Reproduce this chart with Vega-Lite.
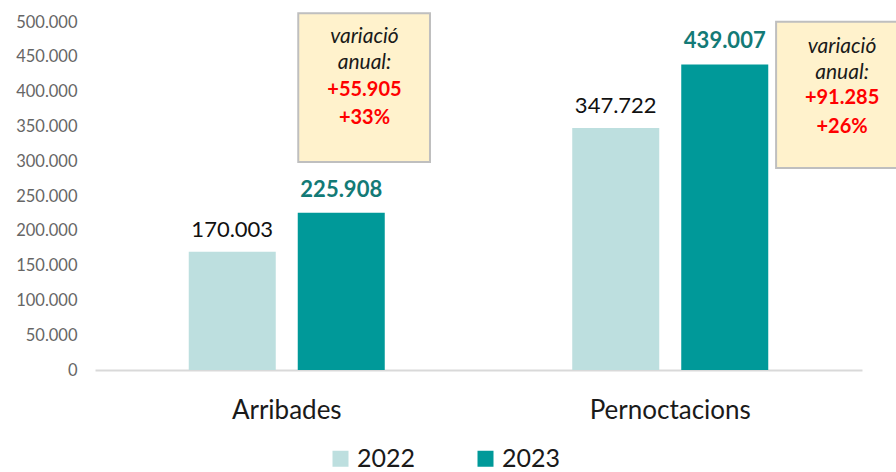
{
  "$schema": "https://vega.github.io/schema/vega-lite/v6.json",
  "width": 767,
  "height": 348,
  "autosize": {"type": "none"},
  "padding": {"left": 95, "top": 22, "right": 34, "bottom": 102},
  "background": "white",
  "config": {
    "view": {"stroke": null},
    "font": "Lato",
    "axisY": {"labelOverlap": false},
    "locale": {"number": {"decimal": ",", "thousands": ".", "grouping": [3], "currency": ["", " €"]}}
  },
  "datasets": {
    "bars": [
      {"cat": "Arribades", "year": "2022", "value": 170003},
      {"cat": "Arribades", "year": "2023", "value": 225908},
      {"cat": "Pernoctacions", "year": "2022", "value": 347722},
      {"cat": "Pernoctacions", "year": "2023", "value": 439007}
    ],
    "boxes": [
      {"box": "Arribades", "x1": 0.530, "x2": 0.8735, "y1": 298900, "y2": 512500},
      {"box": "Pernoctacions", "x1": 1.776, "x2": 2.12, "y1": 290200, "y2": 500400}
    ],
    "notes": [
      {"box": "Arribades", "kind": "label", "line": "variació", "xpos": 0.7027, "ypos": 478900},
      {"box": "Arribades", "kind": "label", "line": "anual:", "xpos": 0.7027, "ypos": 441100},
      {"box": "Arribades", "kind": "value", "line": "+55.905", "xpos": 0.7027, "ypos": 402300},
      {"box": "Arribades", "kind": "value", "line": "+33%", "xpos": 0.7027, "ypos": 362100},
      {"box": "Pernoctacions", "kind": "label", "line": "variació", "xpos": 1.948, "ypos": 464500},
      {"box": "Pernoctacions", "kind": "label", "line": "anual:", "xpos": 1.948, "ypos": 426700},
      {"box": "Pernoctacions", "kind": "value", "line": "+91.285", "xpos": 1.948, "ypos": 390800},
      {"box": "Pernoctacions", "kind": "value", "line": "+26%", "xpos": 1.948, "ypos": 349600}
    ]
  },
  "layer": [
    {
      "data": {"name": "bars"},
      "encoding": {
        "x": {
          "field": "cat", "type": "nominal",
          "scale": {"paddingInner": 0, "paddingOuter": 0},
          "axis": {"title": null, "labelAngle": 0, "ticks": false, "domainColor": "#d9d9d9", "domainWidth": 2, "labelFontSize": 26, "labelColor": "#1a1a1a", "labelPadding": 27, "labelFont": "Lato"}
        },
        "xOffset": {"field": "year", "type": "nominal", "scale": {"paddingInner": 0.2018, "paddingOuter": 0.86}},
        "y": {
          "field": "value", "type": "quantitative",
          "scale": {"domain": [0, 500000], "nice": false},
          "axis": {"title": null, "tickCount": 10, "format": ",d", "labelOverlap": false, "labelSeparation": 0, "domain": false, "ticks": false, "grid": false, "labelFontSize": 16.5, "labelColor": "#666666", "labelPadding": 18, "labelFont": "Lato"}
        }
      },
      "layer": [
        {
          "mark": {"type": "bar"},
          "encoding": {
            "color": {
              "field": "year", "type": "nominal",
              "scale": {"domain": ["2022", "2023"], "range": ["#bddfdf", "#009999"]},
              "legend": {"title": null, "orient": "none", "legendX": 233, "legendY": 424, "direction": "horizontal", "symbolType": "square", "symbolSize": 256, "symbolStrokeWidth": 0, "labelFontSize": 25, "labelFont": "Lato", "labelColor": "#1a1a1a", "labelOffset": 4, "columnPadding": 57}
            }
          }
        },
        {
          "transform": [{"filter": "datum.year === '2022'"}],
          "mark": {"type": "text", "baseline": "alphabetic", "dy": -15, "fontSize": 22, "color": "#111111", "font": "Lato"},
          "encoding": {
            "text": {"field": "value", "type": "quantitative", "format": ",d"}
          }
        },
        {
          "transform": [{"filter": "datum.year === '2023'"}],
          "mark": {"type": "text", "baseline": "alphabetic", "dy": -16, "fontSize": 22, "fontWeight": "bold", "color": "#137a76", "font": "Lato"},
          "encoding": {
            "text": {"field": "value", "type": "quantitative", "format": ",d"}
          }
        }
      ]
    },
    {
      "layer": [
        {
          "data": {"name": "boxes"},
          "mark": {"type": "rect", "fill": "#fff2cc", "stroke": "#bfbfbf", "strokeWidth": 2},
          "encoding": {
            "x": {"field": "x1", "type": "quantitative", "scale": {"domain": [0, 2], "nice": false, "zero": false}, "axis": null},
            "x2": {"field": "x2"},
            "y": {"field": "y1", "type": "quantitative"},
            "y2": {"field": "y2"}
          }
        },
        {
          "data": {"name": "notes"},
          "transform": [{"filter": "datum.kind === 'label'"}],
          "mark": {"type": "text", "baseline": "middle", "align": "center", "fontSize": 21, "fontStyle": "italic", "color": "#1a1a1a", "font": "Lato"},
          "encoding": {
            "x": {"field": "xpos", "type": "quantitative", "axis": null},
            "y": {"field": "ypos", "type": "quantitative"},
            "text": {"field": "line", "type": "nominal"}
          }
        },
        {
          "data": {"name": "notes"},
          "transform": [{"filter": "datum.kind === 'value'"}],
          "mark": {"type": "text", "baseline": "middle", "align": "center", "fontSize": 20, "fontWeight": "bold", "color": "#ff0000", "font": "Lato"},
          "encoding": {
            "x": {"field": "xpos", "type": "quantitative", "axis": null},
            "y": {"field": "ypos", "type": "quantitative"},
            "text": {"field": "line", "type": "nominal"}
          }
        }
      ]
    }
  ],
  "resolve": {"scale": {"x": "independent"}}
}
